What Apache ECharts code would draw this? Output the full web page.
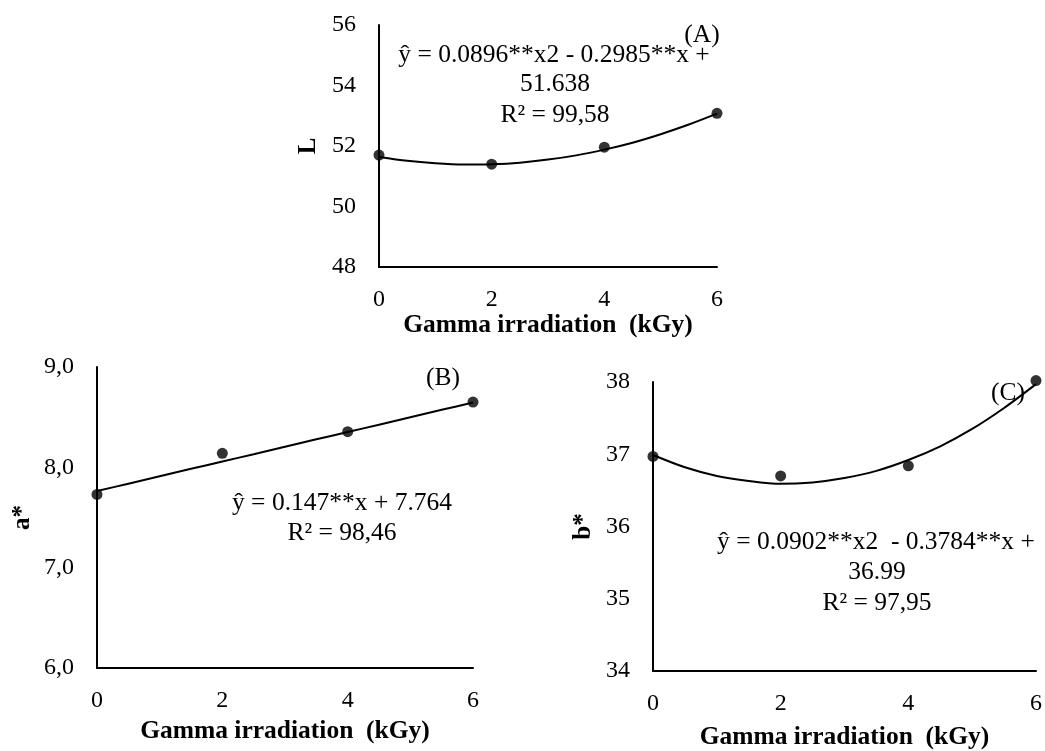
<!DOCTYPE html>
<html>
<head>
<meta charset="utf-8">
<script src="https://cdn.jsdelivr.net/npm/echarts@6/dist/echarts.min.js"></script>
<style>
html,body{margin:0;padding:0;background:#fff;}
#c{width:1045px;height:751px;}
</style>
</head>
<body>
<div id="c"></div>
<script>
// Data
var doses = [0, 2, 4, 6];
var trendDoses = [0, 0.5, 1, 1.5, 2, 2.5, 3, 3.5, 4, 4.5, 5, 5.5, 6];
var valuesL = [51.70, 51.40, 51.96, 53.08];
var trendL = [51.64, 51.51, 51.43, 51.39, 51.40, 51.45, 51.55, 51.69, 51.88, 52.11, 52.39, 52.71, 53.07];
var valuesA = [7.73, 8.14, 8.355, 8.65];
var trendA = [7.764, 7.837, 7.911, 7.985, 8.058, 8.131, 8.205, 8.279, 8.352, 8.425, 8.499, 8.573, 8.646];
var valuesB = [36.97, 36.70, 36.84, 38.02];
var trendB = [36.99, 36.82, 36.70, 36.63, 36.59, 36.61, 36.67, 36.77, 36.92, 37.11, 37.35, 37.64, 37.97];
var xTicks = [0, 2, 4, 6];

var FONT = '"Liberation Serif", "Times New Roman", serif';
function pairs(xs, ys){ return xs.map(function(x,i){ return [x, ys[i]]; }); }

var chart = echarts.init(document.getElementById('c'), null, {renderer:'canvas'});

function xAxisCfg(gridIndex, gap){
  return {
    type:'value', gridIndex:gridIndex, min:0, max:6, interval:2,
    name:'Gamma irradiation  (kGy)', nameLocation:'middle', nameGap:gap,
    nameTextStyle:{fontFamily:FONT, fontSize:25.5, fontWeight:'bold', color:'#000'},
    axisLine:{show:true, onZero:false, lineStyle:{color:'#000', width:2}},
    axisTick:{show:false}, splitLine:{show:false},
    axisLabel:{fontFamily:FONT, fontSize:24, color:'#000', margin:21}
  };
}
function yAxisCfg(gridIndex, name, min, max, interval, gap, fmt){
  return {
    type:'value', gridIndex:gridIndex, min:min, max:max, interval:interval,
    name:name, nameLocation:'middle', nameGap:gap, nameRotate:90,
    nameTextStyle:{fontFamily:FONT, fontSize:25, fontWeight:'bold', color:'#000'},
    axisLine:{show:true, onZero:false, lineStyle:{color:'#000', width:2}},
    axisTick:{show:false}, splitLine:{show:false},
    axisLabel:{fontFamily:FONT, fontSize:24, color:'#000', margin:23, formatter:fmt}
  };
}
function trendSeries(idx, xs, ys){
  return {type:'line', xAxisIndex:idx, yAxisIndex:idx, data:pairs(xs, ys), smooth:0.3,
    showSymbol:false, symbol:'none', lineStyle:{color:'#000', width:2}, clip:false, z:2, silent:true};
}
function pointSeries(idx, xs, ys){
  return {type:'scatter', xAxisIndex:idx, yAxisIndex:idx, data:pairs(xs, ys), symbol:'circle',
    symbolSize:11, itemStyle:{color:'#000'}, clip:false, z:3};
}
function txt(x, y, s, align){
  return {type:'text', x:x, y:y, style:{text:s, fontFamily:FONT, fontSize:25.5, fill:'#000',
    align:align||'center', verticalAlign:'middle'}};
}

var option = {
  backgroundColor:'#fff',
  animation:false,
  grid:[
    {left:379, top:25, width:338, height:242},
    {left:97, top:367, width:376, height:301},
    {left:653, top:382, width:383, height:290}
  ],
  xAxis:[ xAxisCfg(0, 35), xAxisCfg(1, 50), xAxisCfg(2, 53) ],
  yAxis:[
    yAxisCfg(0, 'L', 48, 56, 2, 58, function(v){ return String(v); }),
    yAxisCfg(1, 'a*', 6, 9, 1, 62, function(v){ return v.toFixed(1).replace('.', ','); }),
    yAxisCfg(2, 'b*', 34, 38, 1, 57, function(v){ return String(v); })
  ],
  series:[
    trendSeries(0, trendDoses, trendL), pointSeries(0, doses, valuesL),
    trendSeries(1, trendDoses, trendA), pointSeries(1, doses, valuesA),
    trendSeries(2, trendDoses, trendB), pointSeries(2, doses, valuesB)
  ],
  graphic:[
    txt(702, 35, '(A)'),
    txt(554, 55, 'ŷ = 0.0896**x2 - 0.2985**x +'),
    txt(555, 84, '51.638'),
    txt(555, 115, 'R² = 99,58'),
    txt(443, 378, '(B)'),
    txt(342, 503, 'ŷ = 0.147**x + 7.764'),
    txt(342, 533, 'R² = 98,46'),
    txt(1008, 393, '(C)'),
    txt(876, 542, 'ŷ = 0.0902**x2  - 0.3784**x +'),
    txt(877, 572, '36.99'),
    txt(877, 603, 'R² = 97,95')
  ]
};
chart.setOption(option);
</script>
</body>
</html>
